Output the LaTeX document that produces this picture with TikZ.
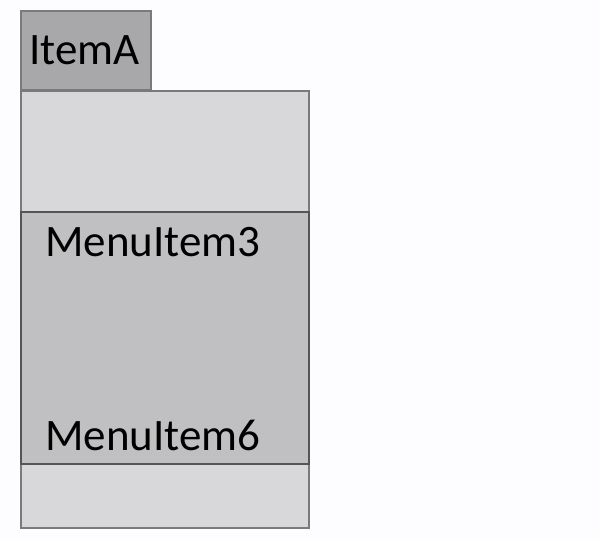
\documentclass[tikz,border=0pt]{standalone}
\usepackage{fontspec}
\setmainfont{Carlito}
\definecolor{tabgray}{HTML}{A8A7A9}
\definecolor{lightgray}{HTML}{D8D7D9}
\definecolor{midgray}{HTML}{C0BFC1}
\definecolor{edgegray}{HTML}{7A7A7A}
\definecolor{darkedge}{HTML}{555555}
\definecolor{paper}{HTML}{FDFCFE}
\begin{document}
\begin{tikzpicture}[x=1pt,y=-1pt,
    panel/.style={draw=edgegray,line width=1.8pt},
    label/.style={anchor=base west,inner sep=0pt,font=\fontsize{45}{52}\selectfont}]
  \fill[paper] (0,0) rectangle (600,540);
  \useasboundingbox (0,0) rectangle (600,540);
  \draw[panel,fill=tabgray] (21,11) rectangle (151,90);
  \node[label] (tab) at (29,65) {ItemA};
  \draw[panel,fill=lightgray] (21,91) rectangle (309,528);
  \draw[panel,draw=darkedge,fill=midgray] (21,212) rectangle (309,464);
  \node[label] (first) at (45,257) {MenuItem3};
  \node[label] (last) at (45,450) {MenuItem6};
\end{tikzpicture}
\end{document}
